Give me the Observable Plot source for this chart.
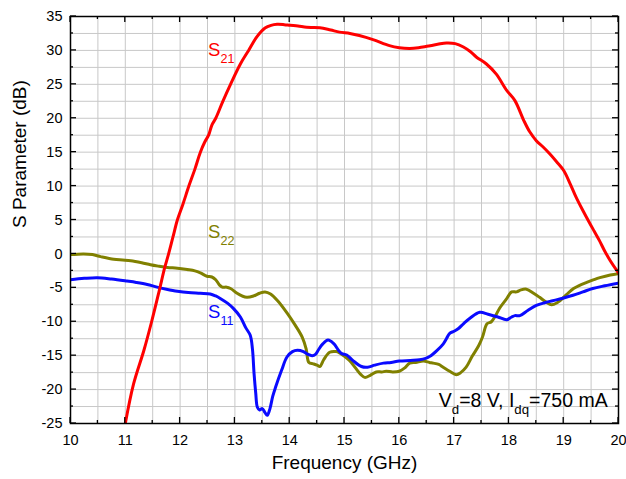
<!DOCTYPE html>
<html><head><meta charset="utf-8">
<script src="https://cdn.jsdelivr.net/npm/d3@7"></script>
<script src="https://cdn.jsdelivr.net/npm/@observablehq/plot@0.6"></script>
<style>
body{margin:0;background:#fff}
svg{font-family:"Liberation Sans",Arial,sans-serif}
</style>
</head><body><div id="chart"></div>
<script>
const xTicks = [10,11,12,13,14,15,16,17,18,19,20];
const yTicks = [-25,-20,-15,-10,-5,0,5,10,15,20,25,30,35];
const xGrid = [10,10.5,11,11.5,12,12.5,13,13.5,14,14.5,15,15.5,16,16.5,17,17.5,18,18.5,19,19.5,20];
const yGrid = [-25,-22.5,-20,-17.5,-15,-12.5,-10,-7.5,-5,-2.5,0,2.5,5,7.5,10,12.5,15,17.5,20,22.5,25,27.5,30,32.5,35];

const s21Freq = [11.0,11.15,11.34,11.48,11.62,11.72,11.79,11.87,11.95,12.05,12.16,12.27,12.37,12.45,12.52,12.58,12.65,12.78,12.92,13.1,13.25,13.4,13.55,13.66,13.77,13.9,14.01,14.15,14.31,14.55,14.75,14.91,15.1,15.27,15.52,15.82,16.0,16.19,16.35,16.5,16.7,16.86,17.02,17.17,17.3,17.41,17.59,17.77,17.96,18.11,18.27,18.38,18.5,18.62,18.74,18.87,19.0,19.12,19.23,19.35,19.47,19.56,19.65,19.75,19.85,20.0];
const s21Db = [-25,-19.2,-14.2,-10,-5.4,-2,0,2.5,5,7.3,10,12.5,15,16.5,17.5,19,20,22.5,25,28,30,32,33.3,33.7,33.85,33.8,33.7,33.6,33.4,33.35,33.0,32.7,32.5,32.2,31.6,30.7,30.4,30.3,30.4,30.6,30.9,31.1,31.0,30.5,29.8,29.0,28.0,26.5,24.1,22.6,19.7,18.0,16.7,15.8,14.8,13.6,12.3,10.3,8.3,6.4,4.6,3.3,2.0,0.4,-1.0,-2.8];

const s11Freq = [10,10.25,10.49,10.75,11.03,11.2,11.4,11.58,11.75,11.95,12.15,12.37,12.55,12.65,12.74,12.87,12.98,13.1,13.2,13.28,13.32,13.35,13.38,13.41,13.45,13.5,13.55,13.59,13.64,13.69,13.74,13.85,13.95,14.05,14.14,14.25,14.33,14.41,14.47,14.52,14.6,14.7,14.8,14.9,14.95,15.04,15.15,15.31,15.42,15.55,15.71,15.85,16.0,16.2,16.37,16.48,16.56,16.68,16.8,16.86,16.92,17.0,17.08,17.17,17.3,17.47,17.62,17.8,17.96,18.05,18.11,18.2,18.35,18.5,18.65,18.8,19.0,19.17,19.35,19.53,19.75,20];
const s11Db = [-3.8,-3.6,-3.5,-3.7,-4.0,-4.2,-4.5,-4.9,-5.2,-5.5,-5.7,-5.8,-5.9,-6.2,-6.6,-7.3,-8.1,-9.3,-10.9,-12.0,-14,-17.7,-20.5,-22.6,-23.0,-22.8,-23.4,-23.8,-22.8,-21.0,-19.7,-17.2,-15.2,-14.4,-14.2,-14.4,-14.8,-15.0,-14.8,-14.2,-13.3,-12.7,-13.2,-14.3,-14.7,-14.9,-15.7,-16.6,-16.7,-16.4,-16.1,-16.0,-15.8,-15.7,-15.6,-15.4,-15.1,-14.3,-13.3,-12.5,-11.7,-11.4,-11.0,-10.3,-9.4,-8.6,-8.9,-9.3,-9.7,-9.3,-9.1,-9.1,-8.3,-7.6,-7.2,-6.9,-6.5,-6.1,-5.6,-5.1,-4.7,-4.3];

const s22Freq = [10,10.24,10.4,10.55,10.79,10.95,11.1,11.3,11.46,11.6,11.77,11.95,12.13,12.27,12.37,12.49,12.58,12.65,12.72,12.77,12.85,12.92,13.04,13.13,13.22,13.34,13.45,13.55,13.65,13.78,13.96,14.1,14.23,14.3,14.35,14.43,14.5,14.55,14.62,14.73,14.85,14.91,15.0,15.09,15.2,15.3,15.37,15.47,15.58,15.68,15.76,15.88,16.0,16.1,16.19,16.3,16.44,16.55,16.62,16.72,16.8,16.92,17.04,17.12,17.22,17.33,17.45,17.52,17.6,17.68,17.75,17.83,17.95,18.05,18.14,18.22,18.32,18.45,18.56,18.68,18.78,18.88,18.93,19.05,19.18,19.3,19.42,19.55,19.66,19.85,20];
const s22Db = [-0.1,0,-0.1,-0.4,-0.8,-0.9,-1.0,-1.3,-1.6,-1.8,-2.0,-2.1,-2.3,-2.5,-2.8,-3.3,-3.4,-3.8,-4.6,-4.9,-4.9,-5.1,-5.8,-6.2,-6.4,-6.2,-5.8,-5.6,-5.9,-6.9,-8.8,-10.5,-12.3,-14.0,-16.0,-16.2,-16.4,-16.6,-15.6,-14.5,-14.4,-14.6,-15.1,-15.7,-16.8,-17.8,-18.2,-17.9,-17.4,-17.4,-17.3,-17.4,-17.3,-16.8,-16.1,-16.0,-15.8,-16.0,-16.1,-16.3,-16.7,-17.3,-17.8,-17.5,-16.7,-15.1,-13.5,-12.2,-10.3,-10.0,-9.2,-8.0,-6.7,-5.6,-5.6,-5.3,-5.2,-5.8,-6.4,-7.1,-7.5,-7.2,-6.9,-6.0,-5.1,-4.6,-4.2,-3.8,-3.5,-3.1,-2.9];

const toPts = (f, v) => f.map((x, i) => ({x, y: v[i]}));
const s21 = toPts(s21Freq, s21Db);
const s11 = toPts(s11Freq, s11Db);
const s22 = toPts(s22Freq, s22Db);

const RED = "#ff0000", BLUE = "#0a0aff", OLIVE = "#808000";

const chart = Plot.plot({
  width: 626, height: 479,
  marginLeft: 70, marginRight: 8, marginTop: 16, marginBottom: 56,
  style: {fontFamily: '"Liberation Sans", Arial, sans-serif', background: "#fff"},
  x: {domain: [10, 20]},
  y: {domain: [-25, 35]},
  marks: [
    Plot.ruleX(xGrid, {x: d => d, stroke: "#c8c8c8", strokeWidth: 1}),
    Plot.ruleY(yGrid, {y: d => d, stroke: "#c8c8c8", strokeWidth: 1}),
    Plot.axisX({ticks: xTicks, tickSize: 0, tickPadding: 11, fontSize: 14.5, label: null, tickFormat: d => String(d)}),
    Plot.axisY({ticks: yTicks, tickSize: 0, tickPadding: 8, fontSize: 14.5, label: null, tickFormat: d => String(d)}),
    Plot.text(["S Parameter (dB)"], {frameAnchor: "left", rotate: -90, dx: -51, dy: 8, fontSize: 19, fill: "#000"}),
    Plot.text(["Frequency (GHz)"], {frameAnchor: "bottom", dy: 45, fontSize: 19, fill: "#000"}),
    Plot.line(s22, {x: "x", y: "y", stroke: OLIVE, strokeWidth: 3, curve: "catmull-rom", clip: true}),
    Plot.line(s11, {x: "x", y: "y", stroke: BLUE, strokeWidth: 3, curve: "catmull-rom", clip: true}),
    Plot.line(s21, {x: "x", y: "y", stroke: RED, strokeWidth: 3, curve: "catmull-rom", clip: true}),
    Plot.frame({stroke: "#000", strokeWidth: 1.5})
  ]
});

document.getElementById("chart").appendChild(chart);

const sx = chart.scale("x"), sy = chart.scale("y");
const svg = d3.select(chart);
const tg = svg.append("g").attr("stroke", "#000").attr("stroke-width", 1.3);
const X0 = sx.apply(10), X1 = sx.apply(20), Y0 = sy.apply(-25), Y1 = sy.apply(35);
xGrid.forEach(v => {
  const L = xTicks.includes(v) ? 6 : 3, px = sx.apply(v);
  tg.append("line").attr("x1", px).attr("x2", px).attr("y1", Y0).attr("y2", Y0 - L);
  tg.append("line").attr("x1", px).attr("x2", px).attr("y1", Y1).attr("y2", Y1 + L);
});
yGrid.forEach(v => {
  const L = yTicks.includes(v) ? 6 : 3, py = sy.apply(v);
  tg.append("line").attr("y1", py).attr("y2", py).attr("x1", X0).attr("x2", X0 + L);
  tg.append("line").attr("y1", py).attr("y2", py).attr("x1", X1).attr("x2", X1 - L);
});

function subLabel(x, y, parts, color, size) {
  const t = svg.append("text").attr("x", sx.apply(x)).attr("y", sy.apply(y))
    .attr("fill", color).attr("font-size", size).attr("text-anchor", "start")
    .attr("font-family", '"Liberation Sans", Arial, sans-serif');
  let sub = false;
  parts.forEach(([s, isSub]) => {
    const ts = t.append("tspan").text(s);
    if (isSub && !sub) ts.attr("dy", 7).attr("font-size", size * 0.68);
    else if (!isSub && sub) ts.attr("dy", -7);
    else if (isSub) ts.attr("font-size", size * 0.68);
    sub = isSub;
  });
}
subLabel(12.52, 29.1, [["S", false], ["21", true]], RED, 18.5);
subLabel(12.52, 2.27, [["S", false], ["22", true]], OLIVE, 18.5);
subLabel(12.52, -9.5, [["S", false], ["11", true]], BLUE, 18.5);
subLabel(16.73, -22.6, [["V", false], ["d", true], ["=8 V, I", false], ["dq", true], ["=750 mA", false]], "#000", 19.5);
</script>
</body></html>
